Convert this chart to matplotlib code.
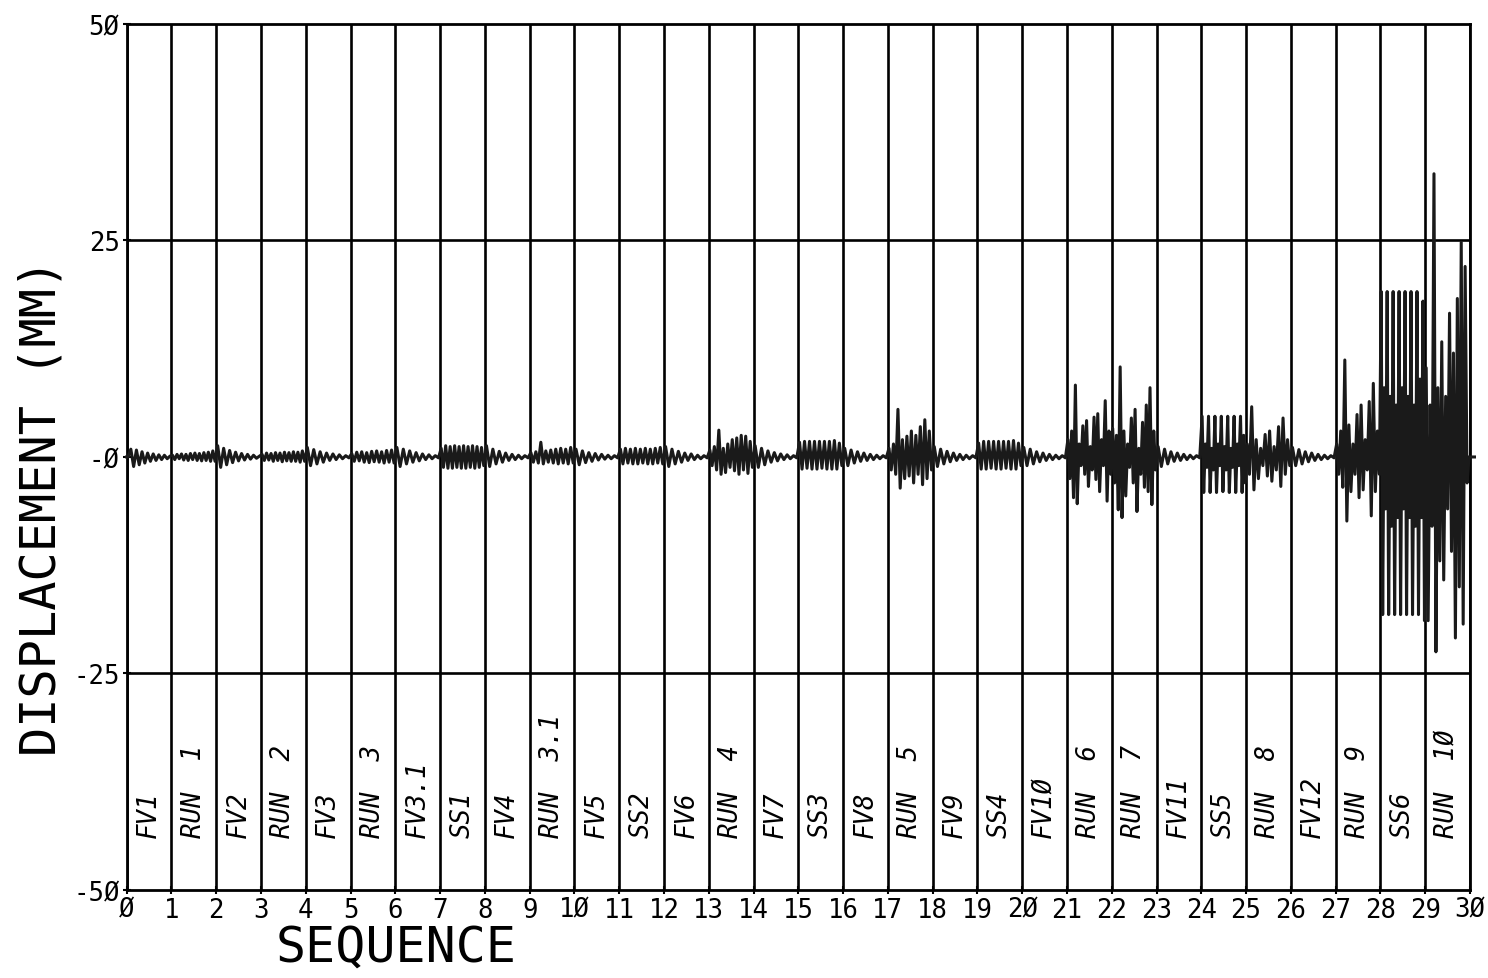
import numpy as np
import matplotlib
matplotlib.use("Agg")
import matplotlib.pyplot as plt

# segment names under each unit of the sequence axis
seg_names = ["FV1", "RUN  1", "FV2", "RUN  2", "FV3", "RUN  3", "FV3.1", "SS1",
             "FV4", "RUN  3.1", "FV5", "SS2", "FV6", "RUN  4", "FV7", "SS3",
             "FV8", "RUN  5", "FV9", "SS4", "FV1Ø", "RUN  6", "RUN  7", "FV11",
             "SS5", "RUN  8", "FV12", "RUN  9", "SS6", "RUN  1Ø"]

x_ticks = list(range(0, 31))
x_ticklabels = ["Ø", "1", "2", "3", "4", "5", "6", "7", "8", "9", "1Ø", "11", "12",
                "13", "14", "15", "16", "17", "18", "19", "2Ø", "21", "22", "23",
                "24", "25", "26", "27", "28", "29", "3Ø"]
y_ticks = [50, 25, 0, -25, -50]
y_ticklabels = ["5Ø", "25", "-Ø", "-25", "-5Ø"]

# displacement peaks (mm), one list per segment
seg00 = [0.0, 0.9, -1.1, 0.8, -0.9, 0.6, -0.7, 0.45, -0.5, 0.35, -0.4, 0.25, -0.3, 0.2, -0.2, 0.1]
seg01 = [0.2, -0.3, 0.3, -0.2, 0.35, -0.35, 0.3, -0.4, 0.4, -0.3, 0.45, -0.4, 0.4, -0.45, 0.5, -0.4, 0.55, -0.5, 0.7, -0.5]
seg02 = [1.3, -1.2, 1.0, -0.9, 0.75, -0.65, 0.55, -0.45, 0.4, -0.35, 0.3, -0.25, 0.2, -0.15, 0.1]
seg03 = [0.3, -0.4, 0.45, -0.35, 0.4, -0.5, 0.5, -0.4, 0.45, -0.55, 0.55, -0.45, 0.5, -0.5, 0.6, -0.5, 0.55, -0.6, 0.7, -0.5]
seg04 = [1.1, -1.0, 0.85, -0.8, 0.6, -0.6, 0.45, -0.4, 0.35, -0.3, 0.25, -0.2, 0.15, -0.1]
seg05 = [0.4, -0.5, 0.55, -0.45, 0.6, -0.6, 0.5, -0.65, 0.65, -0.55, 0.7, -0.6, 0.6, -0.7, 0.75, -0.6, 0.8, -0.7]
seg06 = [1.1, -1.1, 0.9, -0.8, 0.7, -0.6, 0.5, -0.45, 0.35, -0.3, 0.25, -0.2, 0.15, -0.1]
seg07 = [1.0, -1.2, 1.3, -1.3, 1.2, -1.3, 1.3, -1.2, 1.2, -1.3, 1.3, -1.3, 1.2, -1.2, 1.3, -1.3, 1.2, -1.2, 1.1, -1.0]
seg08 = [1.3, -1.1, 0.9, -0.8, 0.65, -0.6, 0.45, -0.4, 0.3, -0.3, 0.2, -0.2, 0.15, -0.1]
seg09 = [0.5, -0.6, 0.6, -0.7, 1.7, -0.8, 0.7, -0.6, 0.8, -0.7, 0.9, -0.8, 1.0, -0.7, 0.9, -0.8, 1.1, -0.7]
seg10 = [0.9, -0.9, 0.7, -0.65, 0.5, -0.5, 0.4, -0.35, 0.3, -0.25, 0.2, -0.2, 0.15, -0.1]
seg11 = [0.9, -0.8, 1.0, -0.7, 0.9, -0.8, 1.0, -0.8, 0.9, -0.7, 1.0, -0.8, 0.9, -0.8, 1.0, -0.7, 1.1, -0.8]
seg12 = [1.2, -1.1, 0.9, -0.8, 0.65, -0.6, 0.45, -0.4, 0.35, -0.3, 0.2, -0.2, 0.15, -0.1]
seg13 = [0.8, -1.0, 1.2, -1.5, 3.1, -2.0, 1.0, -1.8, 1.5, -1.2, 2.0, -1.6, 2.2, -2.0, 2.5, -1.5, 2.4, -1.9, 1.8, -1.2]
seg14 = [1.3, -1.2, 1.0, -0.9, 0.7, -0.6, 0.5, -0.45, 0.35, -0.3, 0.25, -0.2, 0.15, -0.1]
seg15 = [1.7, -1.4, 1.8, -1.3, 1.8, -1.4, 1.8, -1.4, 1.8, -1.3, 1.8, -1.4, 1.8, -1.4, 1.9, -1.4, 1.6, -1.0]
seg16 = [1.0, -1.0, 0.8, -0.7, 0.6, -0.5, 0.45, -0.4, 0.3, -0.3, 0.2, -0.2, 0.15, -0.1]
seg17 = [1.0, -1.5, 1.5, -2.0, 5.5, -3.6, 2.0, -2.5, 2.4, -2.2, 3.0, -3.0, 2.5, -2.0, 3.5, -3.2, 4.3, -2.5, 3.0, -1.5]
seg18 = [1.2, -1.1, 0.9, -0.8, 0.65, -0.55, 0.45, -0.4, 0.3, -0.3, 0.2, -0.2, 0.15, -0.1]
seg19 = [1.6, -1.4, 1.8, -1.4, 1.8, -1.3, 1.8, -1.4, 1.8, -1.4, 1.8, -1.3, 1.8, -1.4, 1.9, -1.4, 1.6, -1.0]
seg20 = [1.1, -1.0, 0.9, -0.8, 0.6, -0.55, 0.45, -0.4, 0.3, -0.3, 0.2, -0.2, 0.15, -0.1]
seg21 = [2.0, -2.5, 3.0, -4.7, 8.3, -5.4, 1.5, -1.0, 3.6, -2.0, 4.2, -3.4, 1.2, -1.5, 4.6, -2.6,
         5.0, -4.0, 2.0, -1.0, 6.5, -5.1, 3.0, -2.0]
seg22 = [3.3, -3.0, 2.5, -6.1, 10.4, -7.0, 3.0, -4.5, 1.5, -1.2, 4.5, -3.0, 5.5, -6.3, 1.0, -2.0,
         4.0, -3.5, 6.0, -4.0, 8.0, -5.5, 3.0, -1.5]
seg23 = [1.2, -1.1, 0.9, -0.8, 0.6, -0.5, 0.45, -0.4, 0.3, -0.3, 0.2, -0.2, 0.15, -0.1]
seg24 = [4.7, -4.1, 1.5, -1.2, 4.7, -4.1, 1.0, -1.5, 4.7, -4.1, 1.5, -1.0, 4.7, -4.0, 1.2, -1.5,
         4.7, -4.1, 1.0, -1.2, 4.7, -4.1, 1.5, -1.0, 4.7, -4.1, 2.5, -3.0]
seg25 = [1.5, -2.0, 5.8, -3.8, 2.0, -2.5, 1.0, -1.0, 2.6, -2.2, 3.0, -2.8, 1.2, -1.5, 3.5, -3.4,
         4.5, -2.0, 2.0, -1.0]
seg26 = [1.1, -1.0, 0.85, -0.8, 0.6, -0.55, 0.45, -0.4, 0.3, -0.3, 0.2, -0.2, 0.15, -0.1]
seg27 = [1.5, -2.0, 3.0, -3.5, 11.2, -7.4, 3.7, -4.0, 1.5, -2.0, 4.9, -4.7, 6.0, -3.8, 2.0, -1.5,
         6.4, -6.8, 8.5, -4.0, 3.0, -2.0]
seg28 = [19.1, -18.2, 8.0, -6.0, 19.1, -18.2, 7.0, -8.0, 19.1, -18.2, 6.0, -7.0, 19.1, -18.2,
         8.0, -6.0, 19.1, -18.2, 7.0, -7.0, 19.1, -18.2, 6.0, -8.0, 19.1, -18.2, 9.0, -7.0, 18.0, -18.9]
seg29 = [10.3, -18.9, 6.0, -8.0, 32.7, -22.5, 8.0, -12.0, 13.3, -14.2, 7.0, -6.0, 16.6, -10.9,
         12.0, -20.9, 18.3, -15.0, 24.8, -19.3, 22.0, -3.0, 0.0]

segments = [seg00, seg01, seg02, seg03, seg04, seg05, seg06, seg07, seg08, seg09,
            seg10, seg11, seg12, seg13, seg14, seg15, seg16, seg17, seg18, seg19,
            seg20, seg21, seg22, seg23, seg24, seg25, seg26, seg27, seg28, seg29]

xs, ys = [], []
for i, seg in enumerate(segments):
    n = len(seg)
    xs.extend(i + (np.arange(n) + 0.5) / n)
    ys.extend(seg)
xs = np.concatenate([[0.0], xs, [30.1]])
ys = np.concatenate([[0.0], ys, [0.0]])

mono = "DejaVu Sans Mono"

fig = plt.figure(figsize=(14.88, 9.79), dpi=100)
ax = fig.add_axes([0.0851, 0.0899, 0.9028, 0.8846])

for i in x_ticks:
    ax.axvline(i, color="black", lw=1.9, zorder=1)
for yv in [25, -25]:
    ax.axhline(yv, color="black", lw=1.9, zorder=1)

ax.plot(xs, ys, color="#1a1a1a", lw=2.2, zorder=3, clip_on=False)

for i, name in enumerate(seg_names):
    ax.text(i + 0.5, -43.9, name, rotation=90, ha="center", va="bottom",
            family=mono, style="oblique", fontsize=18.5, zorder=4)

ax.set_xlim(0, 30)
ax.set_ylim(-50, 50)
ax.set_xticks(x_ticks)
ax.set_xticklabels(x_ticklabels, family=mono, fontsize=18.5)
ax.set_yticks(y_ticks)
ax.set_yticklabels(y_ticklabels, family=mono, fontsize=18.5)
ax.tick_params(axis="both", direction="inout", length=6, width=1.5, pad=2)
for s in ax.spines.values():
    s.set_linewidth(2)

fig.text(0.028, 0.482, "DISPLACEMENT (MM)", rotation=90, ha="center", va="center",
         family=mono, fontsize=35)
fig.text(0.266, 0.008, "SEQUENCE", ha="center", va="bottom", family=mono, fontsize=36)

fig.savefig("out.png", dpi=100)
